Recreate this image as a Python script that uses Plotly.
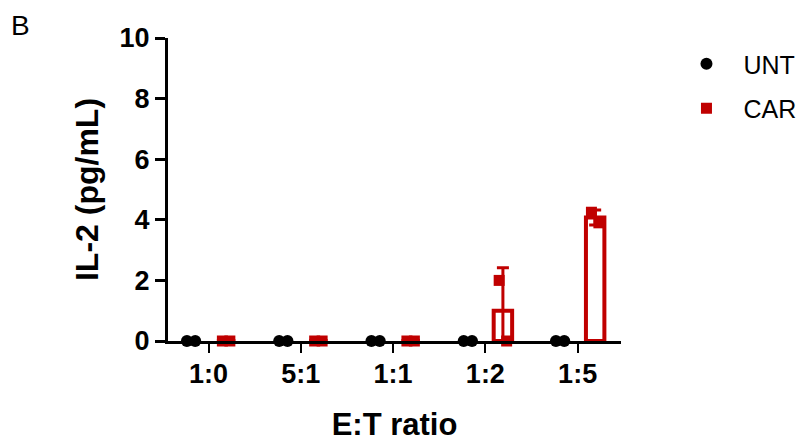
import numpy as np
import plotly.graph_objects as go

# E:T ratio groups and replicate IL-2 readings (pg/mL)
ratios = ["1:0", "5:1", "1:1", "1:2", "1:5"]
unt_values = [[0, 0], [0, 0], [0, 0], [0, 0], [0, 0]]
car_values = [[0, 0], [0, 0], [0, 0], [2.0, 0], [4.25, 3.9]]
y_ticks = [0, 2, 4, 6, 8, 10]

RED = "#c00000"
BLACK = "#000000"
FONT = "Liberation Sans, Arial, sans-serif"

group_pos = np.arange(len(ratios))
offset = 0.19
jitter = [-0.045, 0.045]

car_mean = np.array([np.mean(v) for v in car_values])
car_sd = np.array([np.std(v, ddof=1) for v in car_values])
car_sd_minus = np.minimum(car_sd, car_mean)

fig = go.Figure()

# CAR open bars (mean) with SD error bars
fig.add_trace(
    go.Bar(
        x=group_pos + offset,
        y=car_mean,
        width=0.2,
        marker={"color": "rgba(0,0,0,0)", "line": {"color": RED, "width": 4}},
        error_y={
            "type": "data",
            "array": car_sd,
            "arrayminus": car_sd_minus,
            "color": RED,
            "thickness": 3,
            "width": 6,
        },
        showlegend=False,
        hoverinfo="skip",
    )
)

# replicate points
unt_x, unt_y, car_x, car_y = [], [], [], []
for i in range(len(ratios)):
    for j, v in enumerate(unt_values[i]):
        unt_x.append(group_pos[i] - offset + jitter[j])
        unt_y.append(v)
    for j, v in enumerate(car_values[i]):
        car_x.append(group_pos[i] + offset + jitter[j] * 0.9)
        car_y.append(v)

fig.add_trace(
    go.Scatter(
        x=unt_x,
        y=unt_y,
        mode="markers",
        name="UNT",
        legendgroup="unt",
        marker={"symbol": "circle", "size": 12, "color": BLACK},
        cliponaxis=False,
    )
)
fig.add_trace(
    go.Scatter(
        x=car_x,
        y=car_y,
        mode="markers",
        name="CAR",
        legendgroup="car",
        marker={"symbol": "square", "size": 11, "color": RED},
        cliponaxis=False,
    )
)

fig.update_xaxes(
    range=[-0.44, 4.47],
    tickmode="array",
    tickvals=group_pos,
    ticktext=ratios,
    ticks="outside",
    ticklen=9,
    tickwidth=2,
    tickcolor=BLACK,
    ticklabelstandoff=-2,
    automargin=False,
    showline=True,
    linecolor=BLACK,
    linewidth=3,
    showgrid=False,
    zeroline=False,
    tickfont={"family": FONT, "size": 27, "color": BLACK, "weight": "bold"},
    title={
        "text": "<b>E:T ratio</b>",
        "font": {"family": FONT, "size": 31, "color": BLACK},
        "standoff": 25,
    },
)
fig.update_yaxes(
    range=[0, 10],
    tickmode="array",
    tickvals=y_ticks,
    ticks="outside",
    ticklen=10,
    tickwidth=3,
    tickcolor=BLACK,
    automargin=False,
    showline=True,
    linecolor=BLACK,
    linewidth=3,
    showgrid=False,
    zeroline=False,
    tickfont={"family": FONT, "size": 27, "color": BLACK, "weight": "bold"},
    title={
        "text": "<b>IL-2 (pg/mL)</b>",
        "font": {"family": FONT, "size": 32, "color": BLACK},
        "standoff": 12,
    },
)

fig.add_annotation(
    text="B",
    xref="paper",
    yref="paper",
    x=-0.35,
    y=1.099,
    xanchor="left",
    yanchor="top",
    showarrow=False,
    font={"family": FONT, "size": 28, "color": BLACK},
)

fig.update_layout(
    width=805,
    height=445,
    margin={"l": 160, "r": 188, "t": 30, "b": 112},
    plot_bgcolor="white",
    paper_bgcolor="white",
    barmode="overlay",
    legend={
        "x": 1.107,
        "y": 0.99,
        "xanchor": "left",
        "yanchor": "top",
        "itemwidth": 64,
        "font": {"family": FONT, "size": 25, "color": BLACK},
        "tracegroupgap": 9,
        "bgcolor": "rgba(0,0,0,0)",
    },
)

fig.write_html("out.html")
